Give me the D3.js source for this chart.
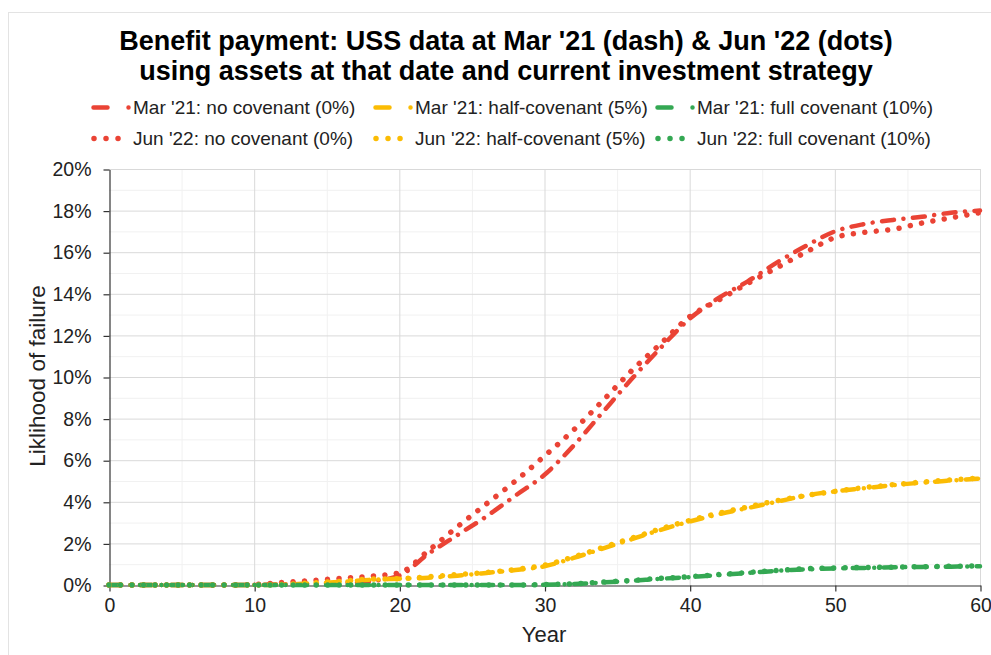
<!DOCTYPE html>
<html>
<head>
<meta charset="utf-8">
<script src="https://cdn.jsdelivr.net/npm/d3@7"></script>
<style>
  html, body { margin: 0; padding: 0; background: #fff; }
  svg { display: block; font-family: "Liberation Sans", Arial, sans-serif; }
</style>
</head>
<body>
<div id="chart"></div>
<script>
// data (likelihood in %)
const years = [0, 2, 4, 6, 8, 10, 12, 14, 16, 18, 20, 22, 24, 26, 28, 30,
  32, 34, 36, 38, 40, 42, 44, 46, 48, 50, 52, 54, 56, 58, 60];

const marNone = [0, 0, 0, 0, 0, 0.01, 0.03, 0.06, 0.1, 0.18, 0.45, 1.5, 2.4, 3.3, 4.3, 5.3,
  6.7, 8.3, 9.9, 11.4, 12.8, 13.8, 14.6, 15.5, 16.3, 17.0, 17.35, 17.55, 17.7, 17.9, 18.0];
const marHalf = [0, 0, 0, 0, 0, 0, 0.02, 0.08, 0.15, 0.25, 0.3, 0.35, 0.45, 0.58, 0.72, 0.9,
  1.3, 1.75, 2.2, 2.65, 3.05, 3.4, 3.7, 4.0, 4.3, 4.5, 4.65, 4.8, 4.92, 5.02, 5.12];
const marFull = [0, 0, 0, 0, 0, 0, 0, 0, 0, 0, 0, 0, 0, 0, 0, 0.01,
  0.05, 0.12, 0.2, 0.3, 0.38, 0.48, 0.58, 0.68, 0.75, 0.8, 0.82, 0.85, 0.87, 0.88, 0.9];

const junNone = [0, 0, 0, 0, 0, 0.03, 0.12, 0.22, 0.32, 0.42, 0.58, 1.65, 2.8, 3.9, 5.0, 6.2,
  7.45, 8.85, 10.3, 11.6, 12.9, 13.7, 14.5, 15.25, 16.0, 16.7, 16.95, 17.1, 17.4, 17.65, 17.9];
const junHalf = [0, 0, 0, 0, 0, 0, 0.03, 0.1, 0.18, 0.28, 0.3, 0.4, 0.5, 0.6, 0.75, 0.95,
  1.35, 1.8, 2.25, 2.7, 3.1, 3.45, 3.75, 4.05, 4.3, 4.5, 4.68, 4.82, 4.95, 5.05, 5.15];
const junFull = [0, 0, 0, 0, 0, 0, 0, 0, 0, 0, 0, 0, 0, 0, 0, 0.02,
  0.06, 0.14, 0.22, 0.32, 0.4, 0.5, 0.6, 0.7, 0.78, 0.82, 0.84, 0.86, 0.88, 0.9, 0.92];

const seriesNames = [
  "Mar '21: no covenant (0%)", "Mar '21: half-covenant (5%)", "Mar '21: full covenant (10%)",
  "Jun '22: no covenant (0%)", "Jun '22: half-covenant (5%)", "Jun '22: full covenant (10%)"
];
const seriesValues = [marNone, marHalf, marFull, junNone, junHalf, junFull];
const seriesColors = ["#ea4335", "#fbbc04", "#34a853", "#ea4335", "#fbbc04", "#34a853"];
const seriesDotted = [false, false, false, true, true, true];

const xTicks = [0, 10, 20, 30, 40, 50, 60];
const xMinor = [5, 15, 25, 35, 45, 55];
const yTicks = [0, 2, 4, 6, 8, 10, 12, 14, 16, 18, 20];
const yMinor = [1, 3, 5, 7, 9, 11, 13, 15, 17, 19];

const width = 991;
const height = 655;
const margin = {top: 169, right: 11, bottom: 70, left: 109};

const x = d3.scaleLinear()
    .domain([0, 60])
    .range([margin.left, width - margin.right]);

const y = d3.scaleLinear()
    .domain([0, 20])
    .range([height - margin.bottom, margin.top]);

const svg = d3.select("#chart").append("svg")
    .attr("width", width)
    .attr("height", height)
    .attr("viewBox", [0, 0, width, height]);

// outer chart border (partly cropped)
svg.append("rect")
    .attr("x", 8.5)
    .attr("y", 12.5)
    .attr("width", 1000)
    .attr("height", 700)
    .attr("fill", "none")
    .attr("stroke", "#e3e3e3");

// title
svg.append("text")
    .attr("x", 506)
    .attr("y", 50)
    .attr("text-anchor", "middle")
    .attr("font-size", 27)
    .attr("font-weight", "bold")
    .attr("fill", "#000")
    .selectAll("tspan")
    .data(["Benefit payment: USS data at Mar '21 (dash) & Jun '22 (dots)",
           "using assets at that date and current investment strategy"])
    .join("tspan")
      .attr("x", 506)
      .attr("dy", (d, i) => i ? 30 : 0)
      .text(d => d);

// gridlines
const grid = svg.append("g");
grid.selectAll(".yminor")
  .data(yMinor)
  .join("line")
    .attr("x1", x(0)).attr("x2", x(60))
    .attr("y1", d => y(d) + 0.5).attr("y2", d => y(d) + 0.5)
    .attr("stroke", "#f1f1f1");
grid.selectAll(".xminor")
  .data(xMinor)
  .join("line")
    .attr("y1", y(0)).attr("y2", y(20))
    .attr("x1", d => x(d) + 0.5).attr("x2", d => x(d) + 0.5)
    .attr("stroke", "#f1f1f1");
grid.selectAll(".ymajor")
  .data(yTicks.slice(1))
  .join("line")
    .attr("x1", x(0)).attr("x2", x(60))
    .attr("y1", d => y(d) + 0.5).attr("y2", d => y(d) + 0.5)
    .attr("stroke", "#d9d9d9");
grid.selectAll(".xmajor")
  .data(xTicks.slice(1))
  .join("line")
    .attr("y1", y(0)).attr("y2", y(20))
    .attr("x1", d => x(d) + 0.5).attr("x2", d => x(d) + 0.5)
    .attr("stroke", "#d9d9d9");

// axes
const yAxis = svg.append("g")
    .attr("transform", `translate(${margin.left + 0.5},0.5)`)
    .call(d3.axisLeft(y)
      .tickValues(yTicks)
      .tickFormat(d => d + "%")
      .tickSize(6)
      .tickSizeOuter(0)
      .tickPadding(12));

const xAxis = svg.append("g")
    .attr("transform", `translate(0.5,${height - margin.bottom + 0.5})`)
    .call(d3.axisBottom(x)
      .tickValues(xTicks)
      .tickSize(6)
      .tickSizeOuter(0)
      .tickPadding(7));

for (const ax of [xAxis, yAxis]) {
  ax.selectAll("path, line").attr("stroke", "#333").attr("stroke-width", 1.2);
  ax.selectAll("text")
    .attr("font-size", 19.5)
    .attr("font-family", "Liberation Sans, Arial, sans-serif")
    .attr("fill", "#222");
}

// axis titles
svg.append("text")
    .attr("x", 544)
    .attr("y", 642)
    .attr("text-anchor", "middle")
    .attr("font-size", 22)
    .attr("fill", "#222")
    .text("Year");

svg.append("text")
    .attr("transform", "translate(45,376) rotate(-90)")
    .attr("text-anchor", "middle")
    .attr("font-size", 22.5)
    .attr("fill", "#222")
    .text("Liklihood of failure");

// series
const line = d3.line()
    .x((d, i) => x(years[i]))
    .y(d => y(d))
    .curve(d3.curveMonotoneX);

const dashStyle = "12 9.5 0.01 9.5";
const dotStyle = "0.01 11.5";

svg.append("g")
  .selectAll("path")
  .data(seriesValues)
  .join("path")
    .attr("d", line)
    .attr("fill", "none")
    .attr("stroke", (d, i) => seriesColors[i])
    .attr("stroke-width", (d, i) => seriesDotted[i] ? 5.5 : 4.5)
    .attr("stroke-linecap", "round")
    .attr("stroke-linejoin", "round")
    .attr("stroke-dasharray", (d, i) => seriesDotted[i] ? dotStyle : dashStyle);

// legend
const legendX = [133, 415, 697];
const legendY = [114, 145];

const legend = svg.append("g")
  .selectAll("g")
  .data(seriesNames)
  .join("g")
    .attr("transform", (d, i) => `translate(${legendX[i % 3]},${legendY[Math.floor(i / 3)]})`);

legend.append("path")
    .attr("d", (d, i) => seriesDotted[i] ? "M-39,-6.5H-14" : "M-39.5,-6.5H-4")
    .attr("fill", "none")
    .attr("stroke", (d, i) => seriesColors[i])
    .attr("stroke-width", (d, i) => seriesDotted[i] ? 5.5 : 4.5)
    .attr("stroke-linecap", "round")
    .attr("stroke-dasharray", (d, i) => seriesDotted[i] ? "0.01 12" : "14 21 0.01 100");

legend.append("text")
    .attr("font-size", 19)
    .attr("fill", "#222")
    .text(d => d);
</script>
</body>
</html>
